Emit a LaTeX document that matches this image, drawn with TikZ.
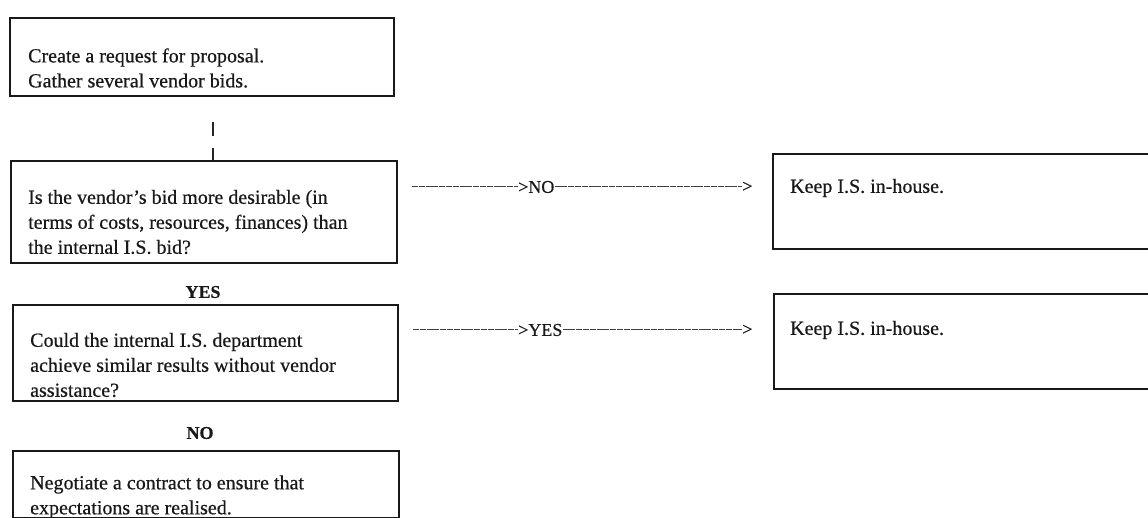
\documentclass[tikz,border=0pt]{standalone}
\usepackage{fontspec}
\setmainfont{Liberation Serif}[FakeBold=0.5]
\begin{document}
\begin{tikzpicture}[x=1pt,y=-1pt,
  box/.style={draw=black!90,line width=1.6pt,inner sep=0pt,anchor=north west},
  txt/.style={inner sep=0pt,anchor=west,align=left,font=\fontsize{20}{25}\selectfont,text=black!90},
  lbl/.style={inner sep=0pt,font=\fontsize{18}{20}\selectfont\bfseries,text=black!90},
  arr/.style={inner sep=0pt,anchor=west,font=\fontsize{18}{20}\selectfont,text=black!90},
  link/.style={draw=black!75,line width=1pt,dash pattern=on 6pt off 0.8pt}
]
\clip (0,0) rectangle (1148,518);
\fill[white] (0,0) rectangle (1148,518);

% left column boxes
\node[box,minimum width=384pt,minimum height=78pt] (b1) at (9,17) {};
\node[txt] (t1) at (28,68) {Create a request for proposal.\\Gather several vendor bids.};

\node[box,minimum width=386pt,minimum height=102pt] (b2) at (10,160) {};
\node[txt] (t2) at (28,222) {Is the vendor's bid more desirable (in\\terms of costs, resources, finances) than\\the internal I.S. bid?};

\node[lbl] (yes) at (203,292) {YES};

\node[box,minimum width=385pt,minimum height=96pt] (b3) at (12,304) {};
\node[txt] (t3) at (30,365) {Could the internal I.S. department\\achieve similar results without vendor\\assistance?};

\node[lbl] (no) at (200,433) {NO};

\node[box,minimum width=386pt,minimum height=67pt] (b4) at (12,450) {};
\node[txt] (t4) at (30,497) {Negotiate a contract to ensure that\\expectations are realised.};

% right boxes
\node[box,minimum width=400pt,minimum height=95pt] (r1) at (772,153) {};
\node[txt] (rt1) at (790,188) {Keep I.S. in-house.};
\node[box,minimum width=400pt,minimum height=95pt] (r2) at (773,293) {};
\node[txt] (rt2) at (790,330) {Keep I.S. in-house.};

% vertical connector box1 -> box2
\coordinate (c0) at (213,122);
\draw[draw=black!85,line width=1.2pt,dash pattern=on 14pt off 12pt] (c0) -- (c0 |- b2.north);

% row 1 arrow
\coordinate (s1) at (412,187);
\node[arr] (n1) at (518,187) {>NO};
\node[arr] (g1) at (742,187) {>};
\draw[link] (s1) -- (n1.west);
\draw[link] (n1.east) -- (g1.west);

% row 2 arrow
\coordinate (s2) at (413,330);
\node[arr] (n2) at (518,330) {>YES};
\node[arr] (g2) at (742,330) {>};
\draw[link] (s2) -- (n2.west);
\draw[link] (n2.east) -- (g2.west);
\end{tikzpicture}
\end{document}
